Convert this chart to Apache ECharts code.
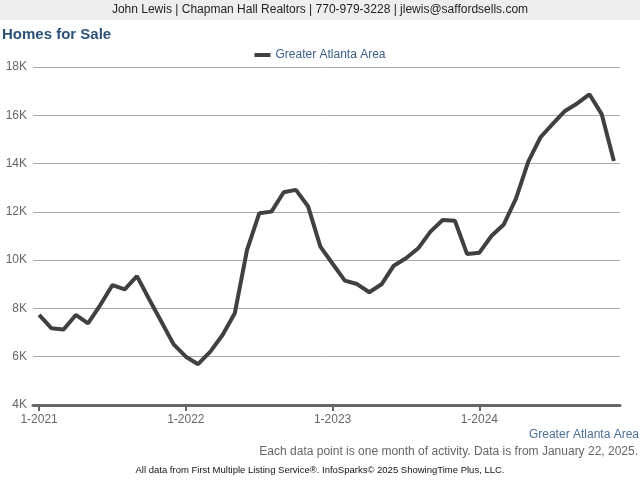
<!DOCTYPE html>
<html>
<head>
<meta charset="utf-8">
<script src="https://cdn.jsdelivr.net/npm/echarts@6/dist/echarts.min.js"></script>
<style>html,body{margin:0;padding:0;background:#fff;}#c{width:640px;height:480px;}</style>
</head>
<body>
<div id="c"></div>
<script>
const months = [];
for (let y = 2021; y <= 2024; y++) for (let m = 1; m <= 12; m++) months.push(m + '-' + y);
const seriesName = 'Greater Atlanta Area';
const homesForSale = [
  7730, 7180, 7130, 7730, 7380, 8140, 8970, 8790, 9340, 8380, 7450, 6510,
  6000, 5690, 6210, 6900, 7800, 10420, 11940, 12010, 12810, 12910, 12220, 10560,
  9850, 9150, 9010, 8670, 9000, 9770, 10080, 10490, 11180, 11660, 11630, 10250,
  10310, 11010, 11480, 12560, 14080, 15090, 15640, 16180, 16490, 16870, 16050, 14110
];
const yTicks = [4000, 6000, 8000, 10000, 12000, 14000, 16000, 18000];

const chart = echarts.init(document.getElementById('c'), null, {renderer: 'canvas'});
chart.setOption({
  animation: false,
  backgroundColor: '#ffffff',
  graphic: [
    {type: 'rect', left: 0, top: 0, shape: {width: 640, height: 20}, style: {fill: '#eeeeee'}},
    {type: 'text', left: 'center', top: 4, style: {text: 'John Lewis | Chapman Hall Realtors | 770-979-3228 | jlewis@saffordsells.com', fill: '#222', font: '12px "Liberation Sans", Arial, sans-serif'}},
    {type: 'text', left: 2, top: 27, style: {text: 'Homes for Sale', fill: '#2b5279', font: 'bold 15px "Liberation Sans", Arial, sans-serif'}},
    {type: 'text', right: 1, top: 429, style: {text: 'Greater Atlanta Area', fill: '#4a6f97', font: '12px "Liberation Sans", Arial, sans-serif'}},
    {type: 'text', right: 2, top: 446, style: {text: 'Each data point is one month of activity. Data is from January 22, 2025.', fill: '#666', font: '12px "Liberation Sans", Arial, sans-serif'}},
    {type: 'text', left: 'center', top: 465, style: {text: 'All data from First Multiple Listing Service®. InfoSparks© 2025 ShowingTime Plus, LLC.', fill: '#111', font: '9.5px "Liberation Sans", Arial, sans-serif'}}
  ],
  legend: {
    top: 44, left: 'center',
    itemWidth: 16, itemHeight: 4, itemGap: 6,
    icon: 'rect',
    textStyle: {color: '#3b5f8a', fontSize: 12, fontFamily: '"Liberation Sans", Arial, sans-serif'},
    data: [seriesName]
  },
  grid: {left: 33, right: 20, top: 67, bottom: 75, containLabel: false},
  xAxis: {
    type: 'category',
    data: months,
    boundaryGap: true,
    axisLine: {lineStyle: {color: '#666', width: 3}},
    axisTick: {show: true, alignWithLabel: true, length: 6, lineStyle: {color: '#666', width: 2}, interval: 11},
    axisLabel: {interval: 11, color: '#666', fontSize: 12, margin: 9, fontFamily: '"Liberation Sans", Arial, sans-serif'},
    splitLine: {show: false}
  },
  yAxis: {
    type: 'value',
    min: yTicks[0], max: yTicks[yTicks.length - 1], interval: 2000,
    axisLine: {show: false}, axisTick: {show: false},
    axisLabel: {color: '#666', fontSize: 12, margin: 6, fontFamily: '"Liberation Sans", Arial, sans-serif', formatter: (v) => (v / 1000) + 'K'},
    splitLine: {lineStyle: {color: '#aaaaaa', width: 1}}
  },
  series: [{
    name: seriesName,
    type: 'line',
    data: homesForSale,
    symbol: 'none',
    lineStyle: {color: '#404040', width: 4},
    itemStyle: {color: '#404040'}
  }]
});
</script>
</body>
</html>
